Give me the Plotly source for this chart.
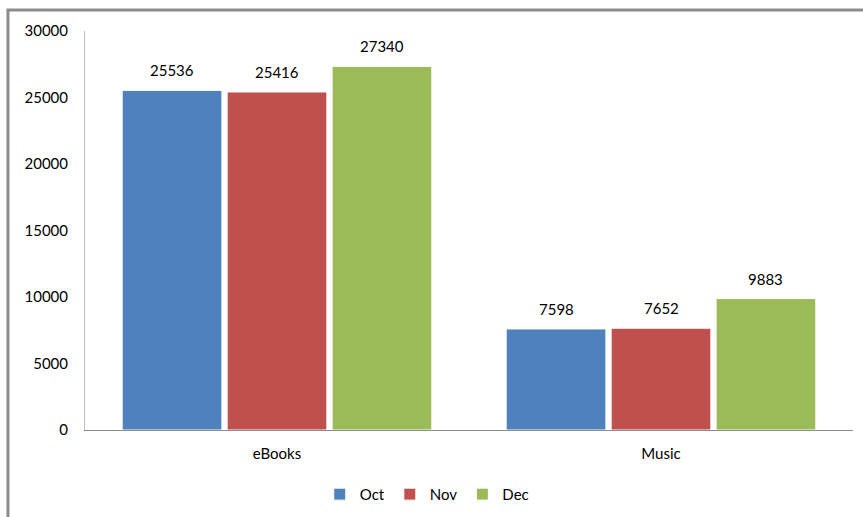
import plotly.graph_objects as go

categories = ["eBooks", "Music"]
months = ["Oct", "Nov", "Dec"]
oct_vals = [25536, 7598]
nov_vals = [25416, 7652]
dec_vals = [27340, 9883]
colors = ["#4F81BD", "#C0504D", "#9BBB59"]

BARGAP = 0.18

fig = go.Figure()
for i, (name, vals, c) in enumerate(zip(months, [oct_vals, nov_vals, dec_vals], colors)):
    fig.add_trace(go.Bar(
        x=categories, y=vals, name=name,
        marker=dict(color=c, line=dict(color="white", width=1)),
        offsetgroup=str(i),
    ))

fig.update_layout(
    width=863, height=517,
    margin=dict(l=85, r=10, t=31, b=87, autoexpand=False),
    paper_bgcolor="white", plot_bgcolor="white",
    font=dict(family="Lato, Liberation Sans, sans-serif", size=15, color="#000000"),
    barmode="group", bargap=BARGAP, bargroupgap=0.05,
    showlegend=True,
    legend=dict(orientation="h", x=0.445, xanchor="center", y=-0.12, yanchor="top",
                font=dict(size=15), itemwidth=30, traceorder="normal"),
    xaxis=dict(showline=True, linecolor="#8C8C8C", linewidth=1, ticks="",
               showgrid=False, ticklabelstandoff=10, automargin=False),
    yaxis=dict(range=[0, 30000], dtick=5000, showline=True, linecolor="#BFBFBF",
               linewidth=1, showgrid=False, zeroline=False, ticks="",
               ticklabelstandoff=13, tickformat="d", automargin=False),
    shapes=[dict(type="rect", xref="paper", yref="paper",
                 x0=-0.1003, x1=1.2, y0=-0.4, y1=1.0526,
                 line=dict(color="#8C8C8C", width=3), fillcolor="rgba(0,0,0,0)",
                 layer="below")],
)

# data labels above bars, offset per group
n = len(months)
group_w = 1 - BARGAP
bar_w = group_w / n
for i, vals in enumerate([oct_vals, nov_vals, dec_vals]):
    for j, v in enumerate(vals):
        xpos = j - group_w / 2 + bar_w * (i + 0.5)
        fig.add_annotation(x=xpos, y=v, text=str(v), showarrow=False,
                           yanchor="bottom", yshift=9, font=dict(size=15, color="#000000"))

fig.write_html("out.html", config={"displayModeBar": False},
               post_script="document.body.style.margin='0';")
